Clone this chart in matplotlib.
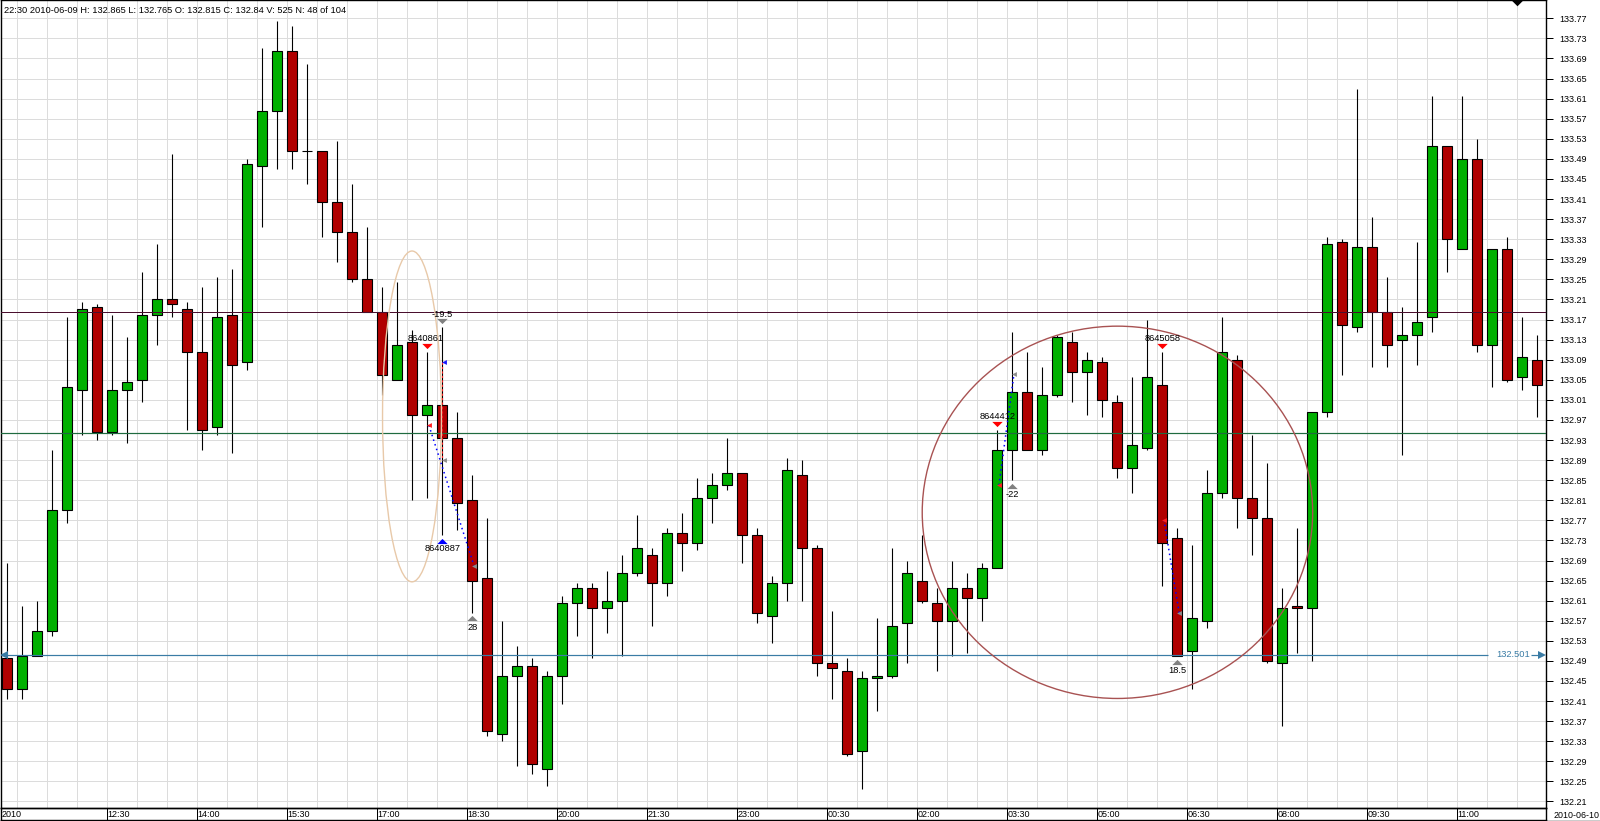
import matplotlib
matplotlib.use('Agg')
from matplotlib import pyplot as plt
from matplotlib.patches import Ellipse
import numpy as np

plt.rcParams['font.family'] = ['Liberation Sans', 'DejaVu Sans']

opens = [132.495, 132.435, 132.50, 132.55, 132.79, 133.03, 133.195, 132.945, 133.03, 133.05,
         133.18, 133.21, 133.19, 133.105, 132.955, 133.18, 133.085, 133.475, 133.585, 133.705,
         133.505, 133.505, 133.405, 133.345, 133.25, 133.185, 133.05, 133.125, 132.98, 133.00,
         132.935, 132.81, 132.655, 132.345, 132.46, 132.48, 132.275, 132.46, 132.605, 132.635,
         132.595, 132.61, 132.665, 132.70, 132.645, 132.745, 132.725, 132.815, 132.84, 132.865,
         132.74, 132.58, 132.645, 132.86, 132.715, 132.485, 132.47, 132.31, 132.455, 132.46,
         132.565, 132.65, 132.605, 132.57, 132.635, 132.615, 132.675, 132.91, 133.025, 132.91,
         133.02, 133.125, 133.065, 133.085, 133.005, 132.875, 132.915, 133.04, 132.735, 132.51,
         132.57, 132.825, 133.09, 132.815, 132.775, 132.485, 132.60, 132.595, 132.985, 133.325,
         133.155, 133.315, 133.185, 133.13, 133.14, 133.175, 133.515, 133.31, 133.49, 133.12,
         133.31, 133.055, 133.09]
highs = [132.685, 132.60, 132.61, 132.91, 133.175, 133.205, 133.20, 133.18, 133.135, 133.265,
         133.32, 133.50, 133.205, 133.235, 133.255, 133.27, 133.49, 133.71, 133.765, 133.755,
         133.68, 133.505, 133.525, 133.44, 133.355, 133.235, 133.245, 133.15, 133.105, 133.155,
         132.985, 132.86, 132.775, 132.57, 132.52, 132.495, 132.47, 132.62, 132.645, 132.645,
         132.67, 132.70, 132.78, 132.715, 132.755, 132.785, 132.855, 132.865, 132.935, 132.865,
         132.755, 132.66, 132.895, 132.89, 132.72, 132.59, 132.495, 132.47, 132.575, 132.715,
         132.69, 132.74, 132.635, 132.69, 132.665, 132.685, 132.95, 133.145, 133.105, 133.075,
         133.14, 133.145, 133.105, 133.095, 133.02, 133.055, 133.17, 133.105, 132.755, 132.72,
         132.87, 133.175, 133.10, 132.94, 132.885, 132.635, 132.755, 132.985, 133.335, 133.33,
         133.63, 133.375, 133.255, 133.195, 133.325, 133.615, 133.515, 133.615, 133.53, 133.31,
         133.335, 133.175, 133.14]
lows = [132.415, 132.415, 132.50, 132.54, 132.765, 132.94, 132.93, 132.94, 132.925, 133.005,
        133.12, 133.175, 132.95, 132.91, 132.94, 132.905, 133.07, 133.355, 133.47, 133.47,
        133.44, 133.335, 133.285, 133.245, 133.185, 133.02, 133.05, 132.81, 132.815, 132.74,
        132.75, 132.585, 132.34, 132.33, 132.28, 132.265, 132.24, 132.405, 132.54, 132.495,
        132.545, 132.50, 132.66, 132.56, 132.62, 132.67, 132.71, 132.765, 132.83, 132.685,
        132.565, 132.525, 132.61, 132.61, 132.46, 132.415, 132.30, 132.235, 132.39, 132.455,
        132.485, 132.605, 132.47, 132.50, 132.505, 132.57, 132.675, 132.85, 132.91, 132.90,
        133.015, 133.005, 132.98, 132.975, 132.855, 132.825, 132.91, 132.64, 132.50, 132.435,
        132.555, 132.815, 132.755, 132.70, 132.485, 132.36, 132.505, 132.49, 132.975, 133.06,
        133.145, 133.075, 133.075, 132.90, 133.08, 133.145, 133.265, 133.31, 133.105, 133.035,
        133.045, 133.03, 132.975]
closes = [132.435, 132.50, 132.55, 132.79, 133.035, 133.19, 132.945, 133.03, 133.045, 133.18,
          133.21, 133.20, 133.105, 132.95, 133.175, 133.08, 133.48, 133.585, 133.705, 133.505,
          133.505, 133.405, 133.345, 133.25, 133.185, 133.06, 133.12, 132.98, 133.00, 132.935,
          132.805, 132.65, 132.35, 132.46, 132.48, 132.285, 132.46, 132.605, 132.635, 132.595,
          132.61, 132.665, 132.715, 132.645, 132.745, 132.725, 132.815, 132.84, 132.865, 132.74,
          132.585, 132.645, 132.87, 132.715, 132.485, 132.475, 132.305, 132.455, 132.46, 132.56,
          132.665, 132.61, 132.57, 132.635, 132.615, 132.675, 132.91, 133.025, 132.91, 133.02,
          133.135, 133.065, 133.09, 133.01, 132.875, 132.92, 133.055, 132.725, 132.50, 132.575,
          132.825, 133.105, 132.815, 132.775, 132.49, 132.595, 132.595, 132.985, 133.32, 133.16,
          133.315, 133.185, 133.12, 133.14, 133.165, 133.515, 133.33, 133.49, 133.12, 133.31,
          133.05, 133.095, 133.04]

time_labels = ['12:30', '14:00', '15:30', '17:00', '18:30', '20:00', '21:30', '23:00',
               '00:30', '02:00', '03:30', '05:00', '06:30', '08:00', '09:30', '11:00']
price_ticks = [132.21 + 0.04 * k for k in range(40)]

resistance = 133.186
support = 132.943
last_level = 132.501

header = '22:30 2010-06-09 H: 132.865 L: 132.765 O: 132.815 C: 132.84 V: 525 N: 48 of 104'

W, H = 1600, 821
GREEN = '#00b000'
RED = '#b00000'
GRID = '#dcdcdc'
BLUE = '#3a7ca5'
PX = 0.72
FS = 6.7
FS_AXIS = 6.5

# wide flat triangles, the way the platform draws its flags
TRI_DOWN = [(-1, 0.5), (1, 0.5), (0, -0.5)]
TRI_UP = [(-1, -0.5), (1, -0.5), (0, 0.5)]

fig = plt.figure(figsize=(W / 100, H / 100), dpi=100, facecolor='white')
ax = fig.add_axes([1 / W, (H - 808) / H, 1545 / W, 807.5 / H])
ax.set_xlim(-0.42, 102.58)
ax.set_ylim(132.197, 133.8055)
ax.set_axisbelow(True)

# grid
for x in np.arange(0.627, 103, 2):
    ax.axvline(x, color=GRID, lw=PX, zorder=0)
for p in price_ticks:
    ax.axhline(p, color=GRID, lw=PX, zorder=0)

# candles
x = np.arange(len(opens))
o = np.array(opens)
c = np.array(closes)
ax.vlines(x, lows, highs, color='black', lw=PX * 1.1, zorder=2)
colors = [GREEN if cl >= op else RED for op, cl in zip(o, c)]
ax.bar(x, np.abs(c - o), 0.667, bottom=np.minimum(o, c), color=colors,
       edgecolor='black', linewidth=PX * 1.1, zorder=3)

# levels
ax.axhline(resistance, color='#4a0f2e', lw=PX, zorder=4)
ax.axhline(support, color='#1f6b3f', lw=PX * 1.2, zorder=4)
ax.hlines(last_level, -0.42, 98.69, color=BLUE, lw=PX * 1.2, zorder=4)
ax.hlines(last_level, 101.6, 102.3, color=BLUE, lw=PX * 1.2, zorder=4)
ax.plot([102.33], [last_level], '>', color=BLUE, ms=6, mew=0, zorder=5, clip_on=False)
ax.plot([-0.2], [last_level], '<', color=BLUE, ms=6, mew=0, zorder=5)
ax.text(100.36, last_level + 0.002, '132.501', color=BLUE, fontsize=FS, ha='center', va='center')

# drawn ellipses
ax.add_patch(Ellipse((26.98, 132.977), 3.93, 0.659, fill=False, ec='#e8c9a9', lw=1.0, zorder=5))
ax.add_patch(Ellipse((74.01, 132.786), 26.03, 0.7416, fill=False, ec='#a85252', lw=1.0, zorder=5))

# trades
trades = [([28.11, 31.11], [132.959, 132.68]),
          ([66.11, 67.11], [132.84, 133.061]),
          ([77.11, 78.13], [132.771, 132.585])]
for tx, ty in trades:
    ax.plot(tx, ty, color='#0000ff', lw=1.1, ls=(0, (1, 2.2)), zorder=6)
    ax.plot(tx[0], ty[0], '<', color='#ff2020', ms=3.5, mew=0, zorder=7)
    ax.plot(tx[1], ty[1], '<', color='#8c8c8c', ms=3.5, mew=0, zorder=7)
ax.plot([29, 29], [133.085, 132.89], color='#ff2020', lw=0.8, ls=(0, (2, 2)), zorder=6)
ax.plot([29.11], [133.085], '<', color='#1a1aff', ms=3.5, mew=0, zorder=7)
ax.plot([29.11], [132.89], '<', color='#8c8c8c', ms=3.5, mew=0, zorder=7)

# entry and exit flags
ax.plot([28, 66, 77], [133.117, 132.961, 133.117], marker=TRI_DOWN, ls='none',
        color='#ff0000', ms=7.5, mew=0, zorder=7)
ax.plot([29], [132.729], marker=TRI_UP, ls='none', color='#0000ff', ms=7.5, mew=0, zorder=7)
ax.plot([29], [133.167], marker=TRI_DOWN, ls='none', color='#808080', ms=7.5, mew=0, zorder=7)
ax.plot([31, 67, 78], [132.575, 132.839, 132.488], marker=TRI_UP, ls='none',
        color='#808080', ms=7.5, mew=0, zorder=7)
ax.plot([100.63], [133.80], marker=TRI_DOWN, ls='none', color='black', ms=8, mew=0, zorder=7)

flag_texts = [(27.9, 133.133, '8640861'), (29, 133.181, '-19.5'), (29, 132.713, '8640887'),
              (31, 132.556, '28'), (66, 132.976, '8644412'), (67, 132.821, '-22'),
              (77, 133.133, '8645058'), (78, 132.47, '18.5')]
for tx, ty, s in flag_texts:
    ax.text(tx, ty, s, fontsize=FS, color='black', ha='center', va='center', zorder=8)

# axes frame
for side in ['top', 'left', 'right', 'bottom']:
    ax.spines[side].set_linewidth(PX * 1.4)
    ax.spines[side].set_color('black')
ax.set_xticks([])
ax.yaxis.tick_right()
ax.set_yticks(price_ticks)
ax.set_yticklabels(['%.2f' % p for p in price_ticks], fontsize=FS_AXIS)
ax.tick_params(axis='y', length=5, width=PX, pad=4.5, color='black')

fig.text(4.5 / W, 1 - 10.5 / H, header, fontsize=FS, ha='left', va='center')

# time strip under the chart
strip = fig.add_axes([1 / W, 1 / H, 1545 / W, 12 / H], sharex=ax)
strip.set_ylim(0, 1)
strip.patch.set_alpha(0)
strip.tick_params(left=False, bottom=False, labelleft=False, labelbottom=False)
for side in ['top', 'left', 'right', 'bottom']:
    strip.spines[side].set_linewidth(PX * 1.4)
for k, s in enumerate(time_labels):
    t = 6.627 + 6 * k
    strip.axvline(t, color='black', lw=PX)
    strip.text(t + 0.07, 0.45, s, fontsize=FS_AXIS, ha='left', va='center')
strip.text(-0.37, 0.45, '2010', fontsize=FS_AXIS, ha='left', va='center')
fig.text(1553.5 / W, 1 - 815 / H, '2010-06-10', fontsize=6.4, ha='left', va='center')
fig.add_artist(plt.Line2D([0, 1], [0.5 / H, 0.5 / H], color='black', lw=PX * 1.4))

fig.savefig('out.png', dpi=100)
